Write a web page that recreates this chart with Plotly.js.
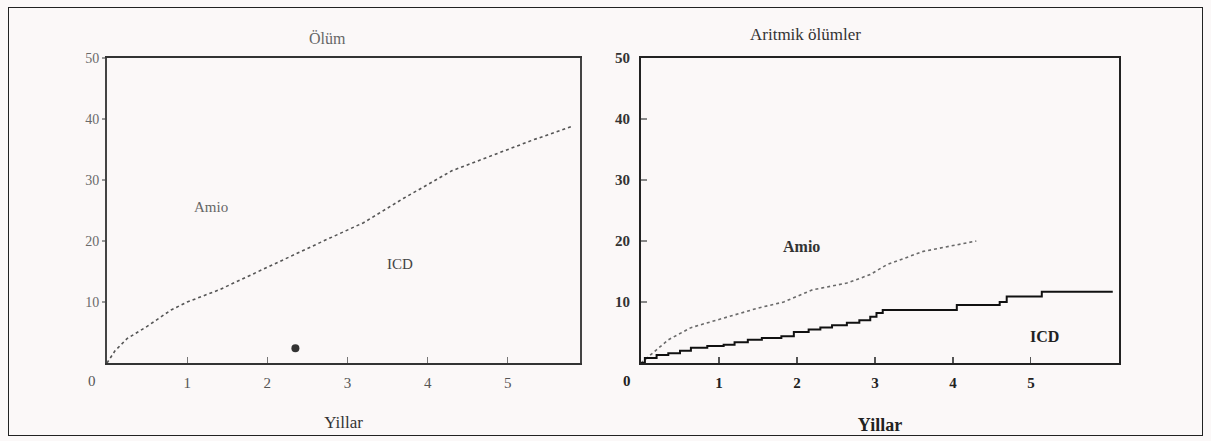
<!DOCTYPE html>
<html><head><meta charset="utf-8">
<script src="https://cdn.plot.ly/plotly-3.0.1.min.js"></script>
<style>
html,body{margin:0;padding:0;background:#fbf8f8;}
#frame{position:absolute;left:8px;top:7px;width:1193px;height:427px;border:1.5px solid #222;}
#chart{position:absolute;left:0;top:0;width:1211px;height:441px;}
</style></head><body>
<div id="frame"></div>
<div id="chart"></div>
<script>
// Left panel: Ölüm (Amio curve)
const leftYears = [0, 0.1, 0.25, 0.5, 0.8, 1.0, 1.4, 1.8, 2.25, 2.7, 3.2, 3.7, 4.3, 4.8, 5.3, 5.8];
const leftAmio  = [0, 2, 4, 6, 8.7, 10, 12, 14.5, 17.3, 20, 23, 27, 31.5, 34, 36.5, 38.8];
const leftDotX = [2.35];
const leftDotY = [2.4];

// Right panel: Aritmik ölümler
const rightAmioYears = [0, 0.09, 0.35, 0.64, 1.06, 1.5, 1.83, 2.2, 2.64, 2.94, 3.15, 3.62, 4.3];
const rightAmio      = [0, 1.0, 3.8, 5.8, 7.4, 9.0, 10.0, 12.0, 13.1, 14.5, 16.1, 18.3, 20.0];
const icdYears = [0, 0.05, 0.2, 0.35, 0.5, 0.64, 0.85, 1.06, 1.2, 1.37, 1.55, 1.8, 1.96, 2.15, 2.3, 2.45, 2.64, 2.8, 2.94, 3.02, 3.1, 3.96, 4.05, 4.6, 4.69, 5.08, 5.14, 6.05];
const icdVals  = [0, 0.8, 1.3, 1.6, 2.0, 2.5, 2.8, 3.0, 3.4, 3.8, 4.1, 4.4, 5.1, 5.5, 5.8, 6.2, 6.6, 7.0, 7.6, 8.2, 8.7, 8.7, 9.5, 10.0, 10.9, 10.9, 11.7, 11.7];

const xTicks = [1, 2, 3, 4, 5];
const yTicks = [10, 20, 30, 40, 50];

const W = 1211, H = 441;
const serif = 'Liberation Serif, DejaVu Serif, serif';

const traces = [
  {x: leftYears, y: leftAmio, xaxis: 'x', yaxis: 'y', mode: 'lines',
   line: {color: '#555', width: 1.6, dash: 'dot'}, hoverinfo: 'skip'},
  {x: leftDotX, y: leftDotY, xaxis: 'x', yaxis: 'y', mode: 'markers',
   marker: {color: '#333', size: 8}, hoverinfo: 'skip'},
  {x: rightAmioYears, y: rightAmio, xaxis: 'x2', yaxis: 'y2', mode: 'lines',
   line: {color: '#6a6a6a', width: 1.6, dash: 'dot'}, hoverinfo: 'skip'},
  {x: icdYears, y: icdVals, xaxis: 'x2', yaxis: 'y2', mode: 'lines',
   line: {color: '#111', width: 2, shape: 'hv'}, hoverinfo: 'skip'}
];

const yd = [1 - 363 / H, 1 - 58 / H];
const axisCommon = {showgrid: false, zeroline: false, showline: true, mirror: true,
  linewidth: 2, ticks: 'inside', ticklen: 6, tickwidth: 1.2};

const layout = {
  width: W, height: H, margin: {l: 0, r: 0, t: 0, b: 0},
  paper_bgcolor: 'rgba(0,0,0,0)', plot_bgcolor: 'rgba(0,0,0,0)',
  showlegend: false,
  font: {family: serif, color: '#333'},
  xaxis: Object.assign({}, axisCommon, {domain: [107 / W, 580 / W], range: [0, 5.9], anchor: 'y',
    tickvals: xTicks, ticktext: xTicks.map(String), linecolor: '#333', tickcolor: '#777', ticklabelstandoff: 5,
    tickfont: {size: 15, color: '#555', family: serif},
    title: {text: 'Yillar', font: {size: 17, color: '#333', family: serif}, standoff: 26}}),
  yaxis: Object.assign({}, axisCommon, {domain: yd, range: [0, 50], anchor: 'x',
    tickvals: yTicks, ticktext: yTicks.map(String), linecolor: '#444', tickcolor: '#999', ticks: 'outside', ticklen: 3,
    tickfont: {size: 14, color: '#6a6a6a', family: serif}}),
  xaxis2: Object.assign({}, axisCommon, {domain: [641 / W, 1119 / W], range: [0, 6.13], anchor: 'y2',
    tickvals: xTicks, ticktext: xTicks.map(String), linecolor: '#222', tickcolor: '#555', ticklabelstandoff: 5,
    tickfont: {size: 15, color: '#222', family: serif, weight: 'bold'},
    title: {text: 'Yillar', font: {size: 18, color: '#222', family: serif, weight: 'bold'}, standoff: 28}}),
  yaxis2: Object.assign({}, axisCommon, {domain: yd, range: [0, 50], anchor: 'x2',
    tickvals: yTicks, ticktext: yTicks.map(String), linecolor: '#222', tickcolor: '#888', ticklabelstandoff: 6,
    tickfont: {size: 15, color: '#333', family: serif, weight: 'bold'}}),
  annotations: [
    {text: 'Ölüm', xref: 'paper', yref: 'paper', x: 307 / W, y: 1 - 28 / H, showarrow: false,
     font: {size: 16, color: '#666', family: serif}},
    {text: 'Aritmik ölümler', xref: 'paper', yref: 'paper', x: 863 / W, y: 1 - 23 / H, showarrow: false,
     font: {size: 17, color: '#333', family: serif}},
    {text: 'Amio', xref: 'x', yref: 'y', x: 1.3, y: 25.5, showarrow: false,
     font: {size: 15, color: '#666', family: serif}},
    {text: 'ICD', xref: 'x', yref: 'y', x: 3.65, y: 16.3, showarrow: false,
     font: {size: 15, color: '#444', family: serif}},
    {text: '0', xref: 'x', yref: 'paper', x: 0, y: 1 - 381 / H, yanchor: 'middle', xshift: -15, showarrow: false,
     font: {size: 15, color: '#555', family: serif}},
    {text: 'Amio', xref: 'x2', yref: 'y2', x: 2.06, y: 19.1, showarrow: false,
     font: {size: 16, color: '#333', family: serif, weight: 'bold'}},
    {text: 'ICD', xref: 'x2', yref: 'y2', x: 5.17, y: 4.3, showarrow: false,
     font: {size: 16, color: '#222', family: serif, weight: 'bold'}},
    {text: '0', xref: 'x2', yref: 'paper', x: 0, y: 1 - 381 / H, yanchor: 'middle', xshift: -14, showarrow: false,
     font: {size: 15, color: '#222', family: serif, weight: 'bold'}}
  ]
};

Plotly.newPlot('chart', traces, layout, {staticPlot: true, displayModeBar: false});
</script>
</body></html>
